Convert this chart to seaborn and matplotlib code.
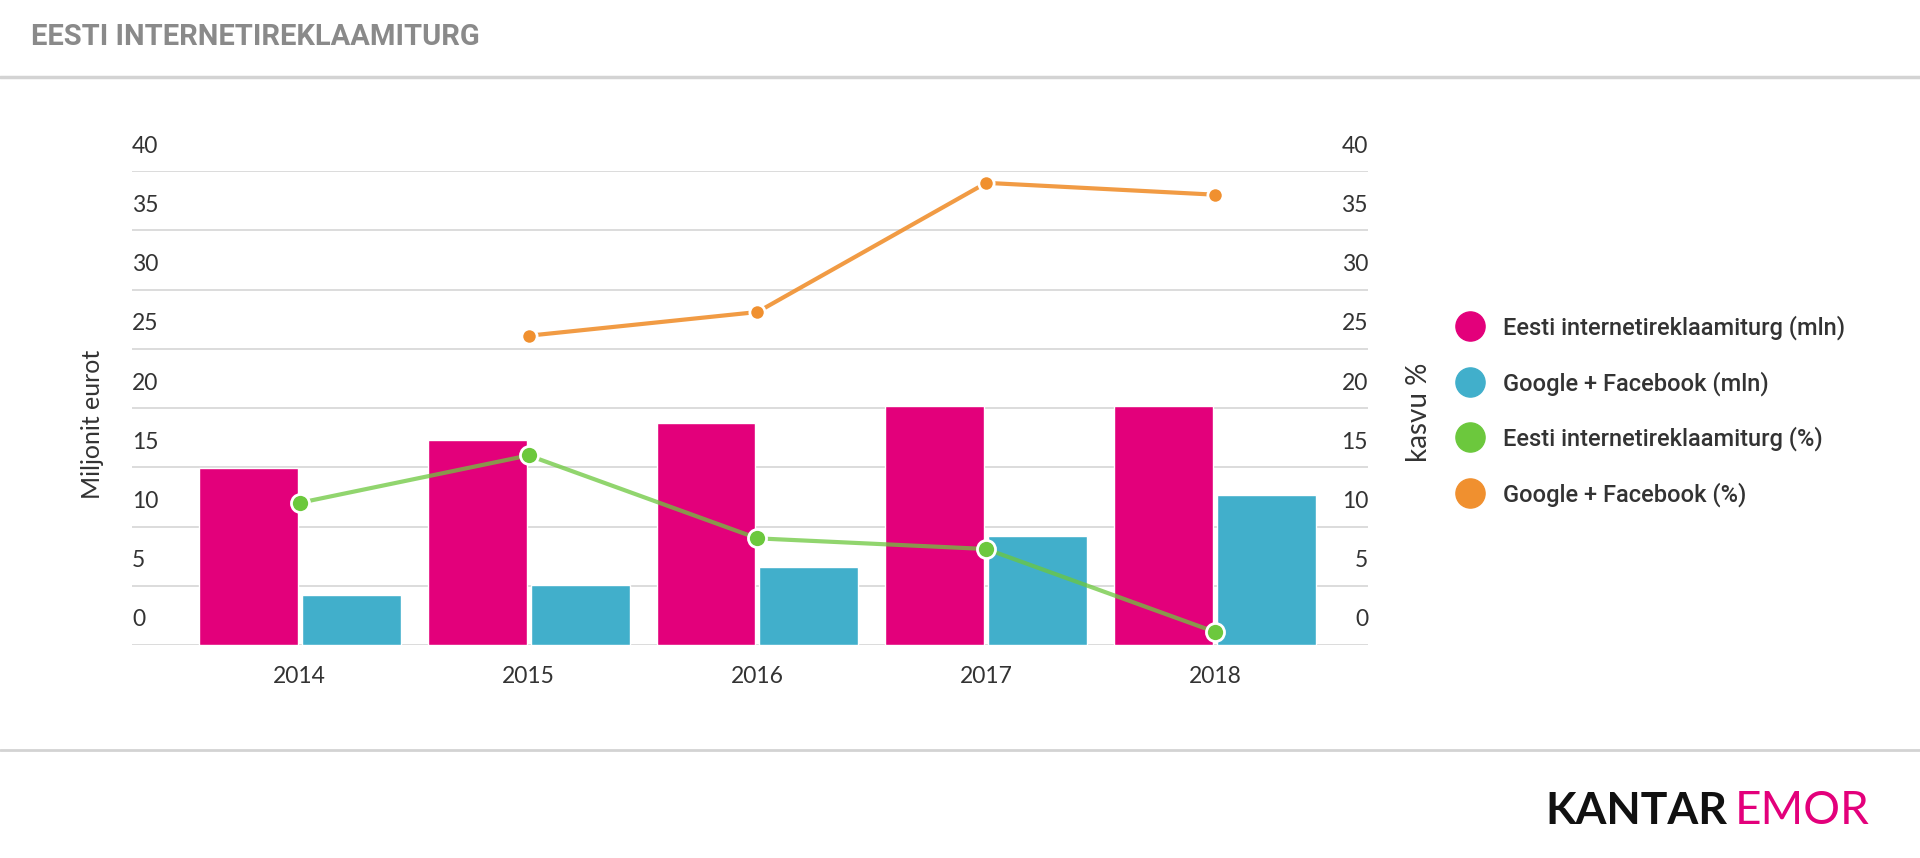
import matplotlib
matplotlib.use("Agg")
import pandas as pd
import numpy as np
import matplotlib.pyplot as plt
import seaborn as sns
from matplotlib.lines import Line2D
from matplotlib.transforms import ScaledTranslation

# andmed
aastad = ["2014", "2015", "2016", "2017", "2018"]
turg_mln = [14.9, 17.3, 18.7, 20.2, 20.2]
gf_mln = [4.2, 5.1, 6.6, 9.2, 12.7]
turg_pct = [12.0, 16.0, 9.0, 8.1, 1.1]
gf_pct = [np.nan, 26.1, 28.1, 39.0, 38.0]
sarjad = ["Eesti internetireklaamiturg (mln)", "Google + Facebook (mln)",
          "Eesti internetireklaamiturg (%)", "Google + Facebook (%)"]
y_ticks = [0, 5, 10, 15, 20, 25, 30, 35, 40]

PINK = "#E3007B"
TEAL = "#41AFCB"
GREEN = "#6CC83D"
ORANGE = "#F0902F"
GRID = "#D6D6D6"
TEXT = "#333333"

sns.set_theme(style="white")
plt.rcParams["font.family"] = ["Lato", "DejaVu Sans"]

fig = plt.figure(figsize=(19.2, 8.58), dpi=100)
fig.patch.set_facecolor("white")
ax = fig.add_axes([132/1920, 1-645/858, (1368-132)/1920, (645-171)/858])

df = pd.DataFrame({
    "aasta": aastad * 2,
    "mln": turg_mln + gf_mln,
    "sari": [sarjad[0]]*5 + [sarjad[1]]*5,
})
sns.barplot(data=df, x="aasta", y="mln", hue="sari", order=aastad,
            palette=[PINK, TEAL], width=0.9, gap=0.04, saturation=1,
            legend=False, ax=ax, zorder=2)

ax2 = ax.twinx()


def kasv(vals, color, ms, alpha):
    d = pd.DataFrame({"aasta": aastad, "v": vals})
    sns.pointplot(data=d, x="aasta", y="v", order=aastad, color=color,
                  markers="", linewidth=3, alpha=alpha, errorbar=None, ax=ax2)
    sns.pointplot(data=d, x="aasta", y="v", order=aastad, color=color,
                  linestyle="none", markersize=ms, markeredgecolor="white",
                  markeredgewidth=2, errorbar=None, ax=ax2)


kasv(turg_pct, GREEN, 13, 0.75)
kasv(gf_pct, ORANGE, 11, 0.9)

for a in (ax, ax2):
    a.set_ylim(0, 40)
    a.set_yticks(y_ticks)
    a.set_yticklabels([str(t) for t in y_ticks])
    for s in a.spines.values():
        s.set_visible(False)
    a.tick_params(axis="both", length=0, labelsize=16.5, labelcolor=TEXT, pad=0)
ax.set_xlim(-0.733, 4.668)
ax.tick_params(axis="x", pad=15)
ax.set_xticks(range(len(aastad)))
ax.set_xticklabels(aastad)
ax.yaxis.grid(True, color=GRID, linewidth=1.2)
ax.xaxis.grid(False)
ax2.grid(False)
ax.set_xlabel("")
ax2.set_xlabel("")

# sildid joonte kohal
off = ScaledTranslation(0, 0.27, fig.dpi_scale_trans)
for lab in ax.get_yticklabels():
    lab.set_horizontalalignment("left")
    lab.set_transform(lab.get_transform() + off)
for lab in ax2.get_yticklabels():
    lab.set_horizontalalignment("right")
    lab.set_transform(lab.get_transform() + off)

ax.set_ylabel("Miljonit eurot", fontsize=18, color=TEXT, labelpad=0)
ax.yaxis.set_label_coords(-0.023, 0.466)
ax2.set_ylabel("kasvu %", fontsize=20, color=TEXT, rotation=90, labelpad=0)
ax2.yaxis.set_label_coords(1.031, 0.49)

# legend
varvid = [PINK, TEAL, GREEN, ORANGE]
handles = [Line2D([], [], marker="o", linestyle="", markersize=21, color=c) for c in varvid]
fig.legend(handles, sarjad, loc="center left", bbox_to_anchor=(1448/1920, 1-411/858),
           frameon=False, borderpad=0, handlelength=0.9, handletextpad=0.95,
           labelspacing=1.31,
           prop={"family": ["Roboto", "DejaVu Sans"], "size": 17, "weight": "medium"},
           labelcolor=TEXT)

# päis ja jalus
fig.text(31/1920, 1-37/858, "EESTI INTERNETIREKLAAMITURG", fontsize=21,
         fontweight="bold", color="#8A8A8A", va="center", ha="left",
         family=["Liberation Sans Narrow", "Roboto", "DejaVu Sans"])
fig.add_artist(Line2D([0, 1], [1-77/858, 1-77/858], transform=fig.transFigure,
                      color="#D3D3D3", linewidth=2.5))
fig.add_artist(Line2D([0, 1], [1-750/858, 1-750/858], transform=fig.transFigure,
                      color="#D3D3D3", linewidth=2))
fig.text(1727/1920, 1-811/858, "KANTAR", fontsize=32, fontweight="bold",
         color="#111111", ha="right", va="center")
fig.text(1735/1920, 1-811/858, "EMOR", fontsize=33, color=PINK,
         ha="left", va="center")

plt.savefig("out.png", dpi=100, facecolor="white")
